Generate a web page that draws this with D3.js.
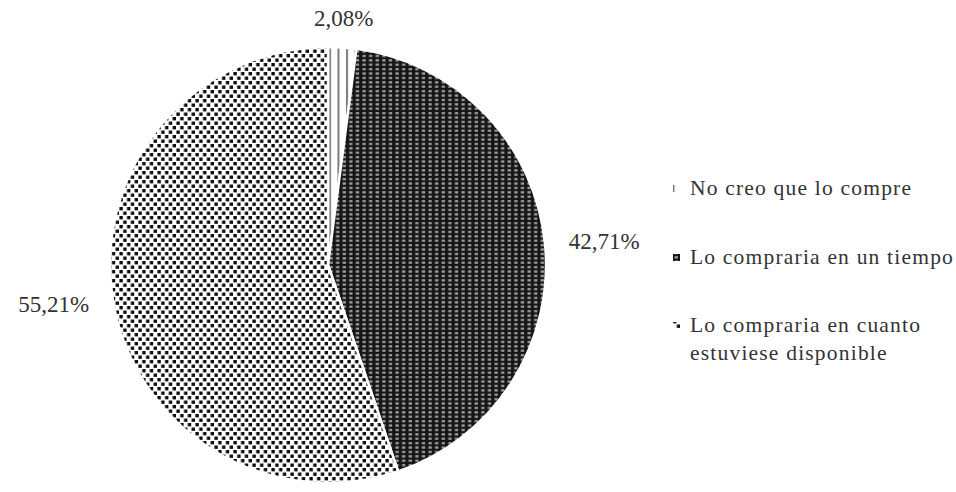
<!DOCTYPE html>
<html>
<head>
<meta charset="utf-8">
<script src="https://cdn.jsdelivr.net/npm/d3@7"></script>
<style>
  html, body { margin: 0; padding: 0; background: #fff; }
  svg { display: block; }
  text { font-family: "Liberation Serif", "Times New Roman", serif; fill: #333; }
</style>
</head>
<body>
<svg id="chart" width="956" height="492"></svg>
<script>
// Survey answers and their shares (%)
const categories = [
  "No creo que lo compre",
  "Lo compraria en un tiempo",
  "Lo compraria en cuanto estuviese disponible"
];
const values = [2.08, 42.71, 55.21];
const valueLabels = ["2,08%", "42,71%", "55,21%"];
const legendLines = [
  ["No creo que lo compre"],
  ["Lo compraria en un tiempo"],
  ["Lo compraria en cuanto", "estuviese disponible"]
];

const svg = d3.select("#chart");
const defs = svg.append("defs");

// Fill patterns: vertical stripes, dark grid, light staggered dots
const pStripe = defs.append("pattern").attr("id", "pat-stripe")
  .attr("patternUnits", "userSpaceOnUse").attr("width", 8.5).attr("height", 8);
pStripe.append("rect").attr("width", 8.5).attr("height", 8).attr("fill", "#fff");
pStripe.append("rect").attr("x", 1).attr("width", 2).attr("height", 8).attr("fill", "#777");

const pDark = defs.append("pattern").attr("id", "pat-dark")
  .attr("patternUnits", "userSpaceOnUse").attr("width", 6.6).attr("height", 4.4);
pDark.append("rect").attr("width", 6.6).attr("height", 4.4).attr("fill", "#121212");
pDark.append("rect").attr("x", 1.4).attr("y", 1).attr("width", 3.4).attr("height", 2.3).attr("fill", "#9e9e9e");

const pLight = defs.append("pattern").attr("id", "pat-light")
  .attr("patternUnits", "userSpaceOnUse").attr("width", 7.6).attr("height", 9);
pLight.append("rect").attr("width", 7.6).attr("height", 9).attr("fill", "#fff");
pLight.append("rect").attr("x", 0.4).attr("y", 0.5).attr("width", 3.4).attr("height", 3.4).attr("fill", "#111");
pLight.append("rect").attr("x", 4.2).attr("y", 5).attr("width", 3.4).attr("height", 3.4).attr("fill", "#111");

defs.append("filter").attr("id", "soft")
  .append("feGaussianBlur").attr("stdDeviation", 0.45);

const fills = d3.scaleOrdinal()
  .domain(categories)
  .range(["url(#pat-stripe)", "url(#pat-dark)", "url(#pat-light)"]);

// Pie geometry
const cx = 328, cy = 265, radius = 218;
const pie = d3.pie().sort(null).value(d => d.value);
const arcs = pie(categories.map((c, i) => ({ name: c, value: values[i], label: valueLabels[i] })));
const arc = d3.arc().innerRadius(0).outerRadius(radius);
const labelArc = d3.arc().innerRadius(radius + 24).outerRadius(radius + 24);

const g = svg.append("g").attr("transform", `translate(${cx},${cy})`);

g.append("g").attr("filter", "url(#soft)")
  .selectAll("path")
  .data(arcs)
  .join("path")
  .attr("d", arc)
  .attr("fill", d => fills(d.data.name))
  .attr("stroke", "#fff")
  .attr("stroke-width", 2.5)
  .attr("stroke-linejoin", "round");

// Value labels placed just outside the rim
g.selectAll("text.val")
  .data(arcs)
  .join("text")
  .attr("class", "val")
  .attr("font-size", 23)
  .each(function (d) {
    const mid = (d.startAngle + d.endAngle) / 2;
    const [x, y] = labelArc.centroid(d);
    const s = Math.sin(mid);
    const t = d3.select(this).attr("x", x).attr("y", y).text(d.data.label);
    if (Math.abs(s) < 0.3) {
      t.attr("text-anchor", "middle").attr("dy", "0.1em");
    } else {
      t.attr("text-anchor", s > 0 ? "start" : "end").attr("dy", "0.35em");
    }
  });

// Legend
const legendX = 673, legendTextX = 690;
const rowY = [195, 264, 332];
const lineGap = 28;
const legend = svg.append("g");
const rows = legend.selectAll("g.row")
  .data(categories)
  .join("g")
  .attr("class", "row");

rows.append("rect")
  .attr("x", legendX)
  .attr("y", (d, i) => rowY[i] - 10)
  .attr("width", 7)
  .attr("height", 7)
  .attr("fill", d => fills(d));

rows.append("text")
  .attr("font-size", 21.5)
  .attr("letter-spacing", 1.2)
  .attr("y", (d, i) => rowY[i])
  .each(function (d, i) {
    d3.select(this).selectAll("tspan")
      .data(legendLines[i])
      .join("tspan")
      .attr("x", legendTextX)
      .attr("dy", (l, j) => j === 0 ? 0 : lineGap)
      .text(l => l);
  });
</script>
</body>
</html>
